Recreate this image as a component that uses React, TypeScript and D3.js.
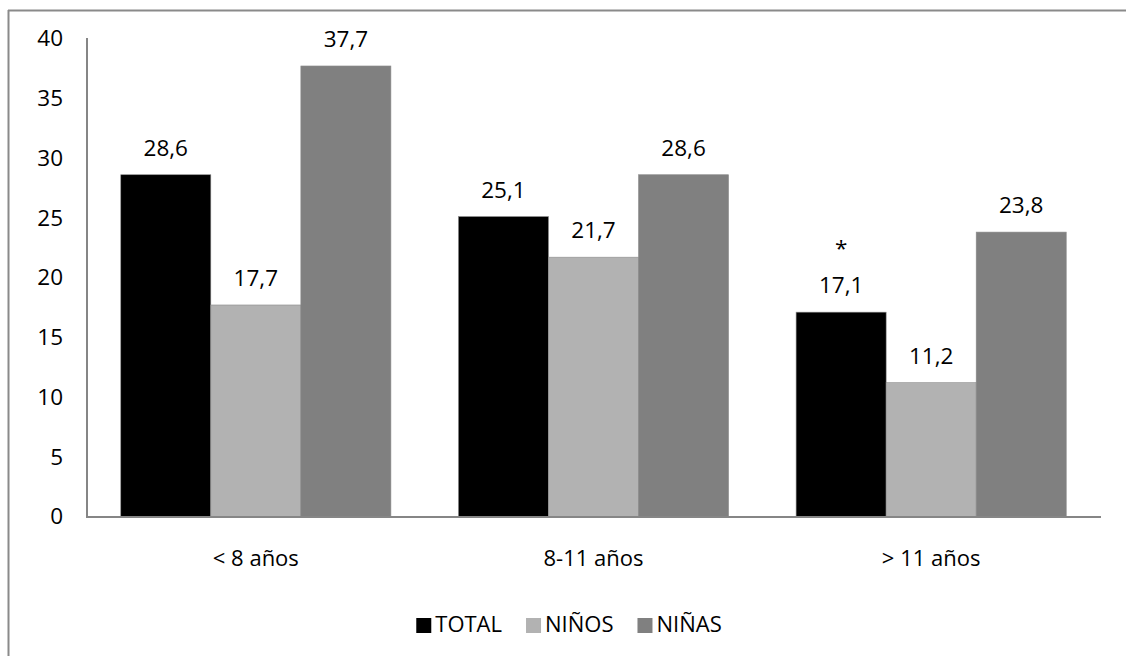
import React, { useEffect, useRef } from "react";
import * as d3 from "d3";

// Age groups on the x axis
const categories = ["< 8 años", "8-11 años", "> 11 años"];
// Series names, in legend order
const seriesNames = ["TOTAL", "NIÑOS", "NIÑAS"];
// Percentages per series, one value per age group
const totalValues = [28.6, 25.1, 17.1];
const ninosValues = [17.7, 21.7, 11.2];
const ninasValues = [37.7, 28.6, 23.8];
// Marks drawn above the value label (significance)
const totalMarks = ["", "", "*"];
const ninosMarks = ["", "", ""];
const ninasMarks = ["", "", ""];
// Y axis ticks
const yTicks = [0, 5, 10, 15, 20, 25, 30, 35, 40];

const colors = ["#000000", "#b2b2b2", "#808080"];
const FONT = "'Open Sans', sans-serif";
const FS = 22.5;

const W = 1126;
const H = 656;

const series = [
  { name: seriesNames[0], values: totalValues, marks: totalMarks, color: colors[0] },
  { name: seriesNames[1], values: ninosValues, marks: ninosMarks, color: colors[1] },
  { name: seriesNames[2], values: ninasValues, marks: ninasMarks, color: colors[2] },
];

const fmt = (v: number) => v.toFixed(1).replace(".", ",");

export default function App() {
  const legendRef = useRef<SVGGElement>(null);

  const x0 = d3.scaleBand<string>().domain(categories).range([87, 1100]).paddingInner(0.2).paddingOuter(0.1);
  const x1 = d3.scaleBand<string>().domain(seriesNames).range([0, x0.bandwidth()]);
  const y = d3.scaleLinear().domain([0, 40]).range([516.5, 38.5]);

  // Legend: lay out items side by side from measured text widths, centred
  useEffect(() => {
    const g = d3.select(legendRef.current);
    if (!g.node()) return;
    g.selectAll("*").remove();
    const sq = 15;
    const gapText = 4;
    const gapItem = 24;
    const items = g
      .selectAll("g.item")
      .data(series)
      .enter()
      .append("g")
      .attr("class", "item");
    items
      .append("rect")
      .attr("width", sq)
      .attr("height", sq)
      .attr("y", -sq + 1)
      .attr("fill", (d) => d.color);
    items
      .append("text")
      .attr("x", sq + gapText)
      .attr("font-family", FONT)
      .attr("font-size", 22)
      .attr("fill", "#000")
      .text((d) => d.name);
    let xPos = 0;
    const offsets: number[] = [];
    items.each(function () {
      const t = (this as SVGGElement).querySelector("text") as SVGTextElement;
      offsets.push(xPos);
      xPos += sq + gapText + t.getComputedTextLength() + gapItem;
    });
    const total = xPos - gapItem;
    const start = 569 - total / 2;
    items.attr("transform", (_d, i) => `translate(${start + offsets[i]},632)`);
  }, []);

  return (
    <svg
      width={W}
      height={H}
      style={{ position: "absolute", left: 0, top: 0, background: "#fff" }}
    >
      {/* frame (top and left edges) */}
      <line x1={8} x2={W} y1={10.5} y2={10.5} stroke="#8a8a8a" strokeWidth={2} />
      <line x1={8.5} x2={8.5} y1={10} y2={H} stroke="#8a8a8a" strokeWidth={2} />

      {/* y tick labels */}
      {yTicks.map((t) => (
        <text
          key={t}
          x={63}
          y={y(t)}
          dy="0.35em"
          textAnchor="end"
          fontFamily={FONT}
          fontSize={FS}
          fill="#000"
        >
          {t}
        </text>
      ))}

      {/* bars */}
      {categories.map((c, i) => (
        <g key={c} transform={`translate(${x0(c)},0)`}>
          {series.map((s) => {
            const v = s.values[i];
            const bx = x1(s.name)!;
            const bw = x1.bandwidth();
            const top = y(v);
            return (
              <g key={s.name}>
                <rect
                  x={bx}
                  y={top}
                  width={bw}
                  height={y(0) - top}
                  fill={s.color}
                  stroke="#8c8c8c"
                  strokeWidth={0.6}
                />
                <text
                  x={bx + bw / 2}
                  y={top - 19}
                  textAnchor="middle"
                  fontFamily={FONT}
                  fontSize={FS}
                  fill="#000"
                >
                  {fmt(v)}
                </text>
                {s.marks[i] && (
                  <text
                    x={bx + bw / 2}
                    y={top - 19 - 37}
                    textAnchor="middle"
                    fontFamily={FONT}
                    fontSize={FS}
                    fill="#000"
                  >
                    {s.marks[i]}
                  </text>
                )}
              </g>
            );
          })}
          <text
            x={x0.bandwidth() / 2}
            y={566}
            textAnchor="middle"
            fontFamily={FONT}
            fontSize={22}
            fill="#000"
          >
            {c}
          </text>
        </g>
      ))}

      {/* axes */}
      <line x1={87} x2={87} y1={38} y2={517.5} stroke="#868686" strokeWidth={2} />
      <line x1={86} x2={1101} y1={517} y2={517} stroke="#868686" strokeWidth={2} />

      <g ref={legendRef} />
    </svg>
  );
}
